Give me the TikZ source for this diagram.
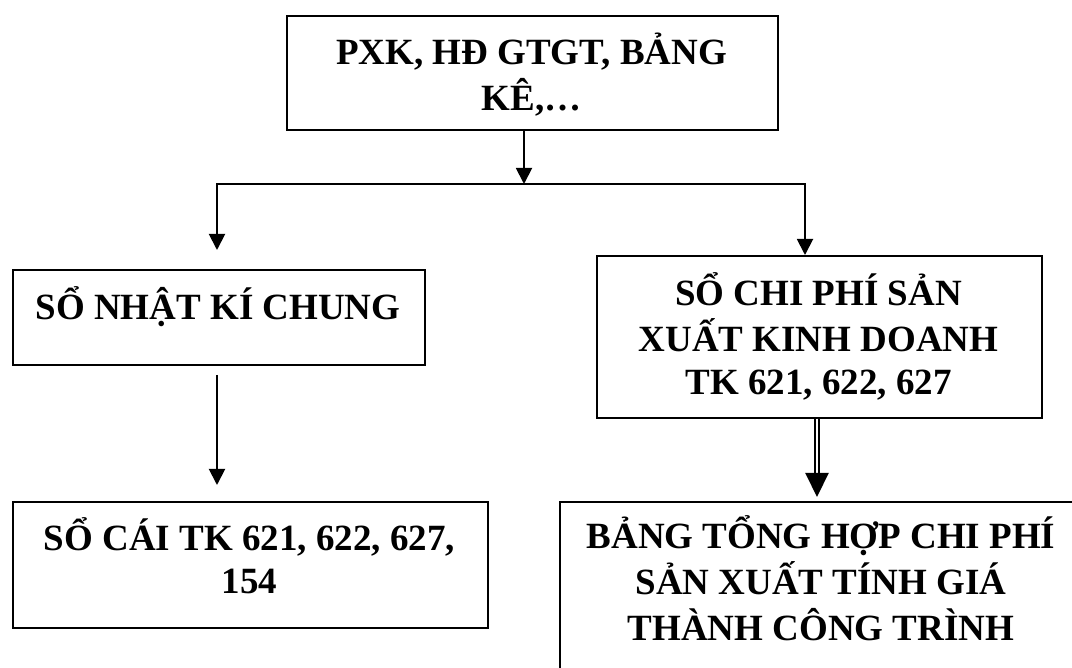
\documentclass[tikz,border=0pt]{standalone}
\usepackage{fontspec}
\setmainfont{Liberation Serif}
\usetikzlibrary{arrows.meta}
\begin{document}
\begin{tikzpicture}[x=1pt,y=-1pt,
  box/.style={draw=black, line width=1.7pt, inner sep=0pt, anchor=north west},
  lbl/.style={anchor=north, inner sep=0pt, align=center, font=\fontsize{37}{43}\selectfont\bfseries},
  arr/.style={line width=1.9pt, line join=miter, -{Triangle[length=16pt,width=16pt]}},
  dbl/.style={line width=2.1pt, double distance=1.8pt, -{Triangle[length=24pt,width=23pt]}}]
\useasboundingbox (0,0) rectangle (1072,668);
% boxes
\node[box, minimum width=491pt, minimum height=114pt] (top) at (286,15) {};
\node[box, minimum width=412pt, minimum height=95pt] (lbox) at (12,269) {};
\node[box, minimum width=445pt, minimum height=162pt] (rb) at (596,255) {};
\node[box, minimum width=475pt, minimum height=126pt] (bl) at (12,501) {};
\node[box, minimum width=524pt, minimum height=250pt] (br) at (559,501) {};
% texts
\node[lbl] (ttop) at (531.5,32.4) {\strut PXK, HĐ GTGT, BẢNG\\\strut KÊ,…};
\node[lbl] (tl) at (218,285.9) {\strut SỔ NHẬT KÍ CHUNG};
\node[lbl] (tr) at (818.5,271.9) {\strut SỔ CHI PHÍ SẢN\\\strut XUẤT KINH DOANH\\\strut TK 621, 622, 627};
\node[lbl] (tbl) at (249.5,516.9) {\strut SỔ CÁI TK 621, 622, 627,\\\strut 154};
\node[lbl] (tbr) at (821,514.9) {\strut BẢNG TỔNG HỢP CHI PHÍ\\\strut SẢN XUẤT TÍNH GIÁ\\\strut THÀNH CÔNG TRÌNH};
% connectors
\coordinate (jm) at (524,184);
\coordinate (jl) at (217,250);
\coordinate (jr) at (805,0);
\coordinate (la) at (217,375);
\coordinate (lb) at (217,485);
\coordinate (dx) at (817,0);
\draw[arr] (jm |- top.south) -- (jm);
\draw[arr] (jm) -| (jl);
\draw[arr] (jm) -| (jr |- rb.north);
\draw[arr] (la) -- (lb);
\draw[dbl, shorten >=4pt] (dx |- rb.south) -- (dx |- br.north);
\end{tikzpicture}
\end{document}
